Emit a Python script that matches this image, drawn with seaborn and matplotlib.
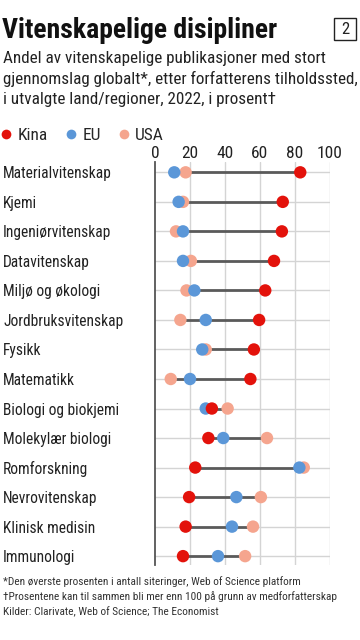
import numpy as np
import pandas as pd
import matplotlib
matplotlib.use("Agg")
import matplotlib.pyplot as plt
import seaborn as sns
from matplotlib.patches import Rectangle

# ── Data ────────────────────────────────────────────────────────
disciplines = [
    "Materialvitenskap", "Kjemi", "Ingeniørvitenskap", "Datavitenskap",
    "Miljø og økologi", "Jordbruksvitenskap", "Fysikk", "Matematikk",
    "Biologi og biokjemi", "Molekylær biologi", "Romforskning",
    "Nevrovitenskap", "Klinisk medisin", "Immunologi",
]
kina = [83, 73, 72.5, 68, 63, 59.5, 56.5, 54.5, 32.5, 30.5, 23, 19.5, 17.5, 16]
eu = [11, 13.5, 16, 16, 22.5, 29, 27, 20, 29, 39, 82.5, 46.5, 44, 36]
usa = [17.5, 16, 12, 20.5, 18, 14.5, 29, 9, 41.5, 64, 85, 60.5, 56, 51.5]
x_ticks = [0, 20, 40, 60, 80, 100]

colors = {"Kina": "#e3120b", "EU": "#5b97d8", "USA": "#f5a58e"}

df = pd.DataFrame({"disiplin": disciplines, "Kina": kina, "EU": eu, "USA": usa})
df["pos"] = np.arange(len(df))
long = df.melt(id_vars=["disiplin", "pos"], value_vars=["USA", "EU", "Kina"],
               var_name="region", value_name="andel")

sns.set_theme(style="white")
plt.rcParams["font.family"] = ["Roboto Condensed", "DejaVu Sans"]

W, H = 360, 640
fig = plt.figure(figsize=(W / 100, H / 100), dpi=100)
ax = fig.add_axes([155 / W, 1 - 565 / H, 175 / W, (565 - 162) / H])

# gridlines
for x in x_ticks[1:]:
    ax.axvline(x, color="#d4d4d4", lw=1, zorder=0)
for y in df["pos"]:
    ax.axhline(y, color="#d4d4d4", lw=1, zorder=0)

# connecting bars between min and max
lo = df[["Kina", "EU", "USA"]].min(axis=1)
hi = df[["Kina", "EU", "USA"]].max(axis=1)
ax.hlines(df["pos"], lo, hi, color="#5a5a5a", lw=2.0, zorder=2)

sns.scatterplot(data=long, x="andel", y="pos", hue="region",
                hue_order=["USA", "EU", "Kina"], palette=colors,
                s=80, linewidth=0, alpha=1, zorder=3, ax=ax, legend=False)

ax.set_xlim(0, 100)
ax.set_ylim(13.3, -0.35)
ax.set_xticks(x_ticks)
ax.set_yticks(df["pos"])
ax.set_yticklabels(disciplines, ha="left")
ax.set_xlabel("")
ax.set_ylabel("")
ax.xaxis.tick_top()
ax.tick_params(axis="x", length=0, pad=1, labelsize=12.5, labelcolor="#222222")
ax.tick_params(axis="y", length=3, width=1, color="#555555", pad=152 * 0.72 - 3,
               labelsize=11.2, labelcolor="#222222")
for side in ["top", "right", "bottom"]:
    ax.spines[side].set_visible(False)
ax.spines["left"].set_color("#555555")
ax.spines["left"].set_linewidth(1.3)

# ── Title block ─────────────────────────────────────────────────
fig.text(2 / W, 1 - 38 / H, "Vitenskapelige disipliner", fontsize=20,
         fontweight="bold", color="#111111")
fig.patches.append(Rectangle((334 / W, 1 - 40 / H), 22 / W, 22 / H,
                             transform=fig.transFigure, fill=False,
                             edgecolor="#222222", lw=1))
fig.text(345 / W, 1 - 29 / H, "2", fontsize=12, ha="center", va="center",
         color="#222222")
subtitle = ("Andel av vitenskapelige publikasjoner med stort\n"
            "gjennomslag globalt*, etter forfatterens tilholdssted,\n"
            "i utvalgte land/regioner, 2022, i prosent†")
fig.text(3 / W, 1 - 51 / H, subtitle, fontsize=12.3, va="top",
         linespacing=1.38, color="#222222")

# legend
handles = [plt.Line2D([], [], marker="o", ls="", markersize=7,
                      markerfacecolor=colors[k], markeredgewidth=0)
           for k in ["Kina", "EU", "USA"]]
fig.legend(handles, ["Kina", "EU", "USA"], loc="center left",
           bbox_to_anchor=(-1 / W, 1 - 135 / H), ncol=3, frameon=False,
           fontsize=12.5, handletextpad=0.25, columnspacing=0.95,
           handlelength=0.8, borderpad=0, borderaxespad=0)

# footnotes
notes = ("*Den øverste prosenten i antall siteringer, Web of Science platform\n"
         "†Prosentene kan til sammen bli mer enn 100 på grunn av medforfatterskap\n"
         "Kilder: Clarivate, Web of Science; The Economist")
fig.text(3 / W, 1 - 576 / H, notes, fontsize=8.2, va="top", linespacing=1.5,
         color="#333333")

fig.savefig("out.png", dpi=100)
